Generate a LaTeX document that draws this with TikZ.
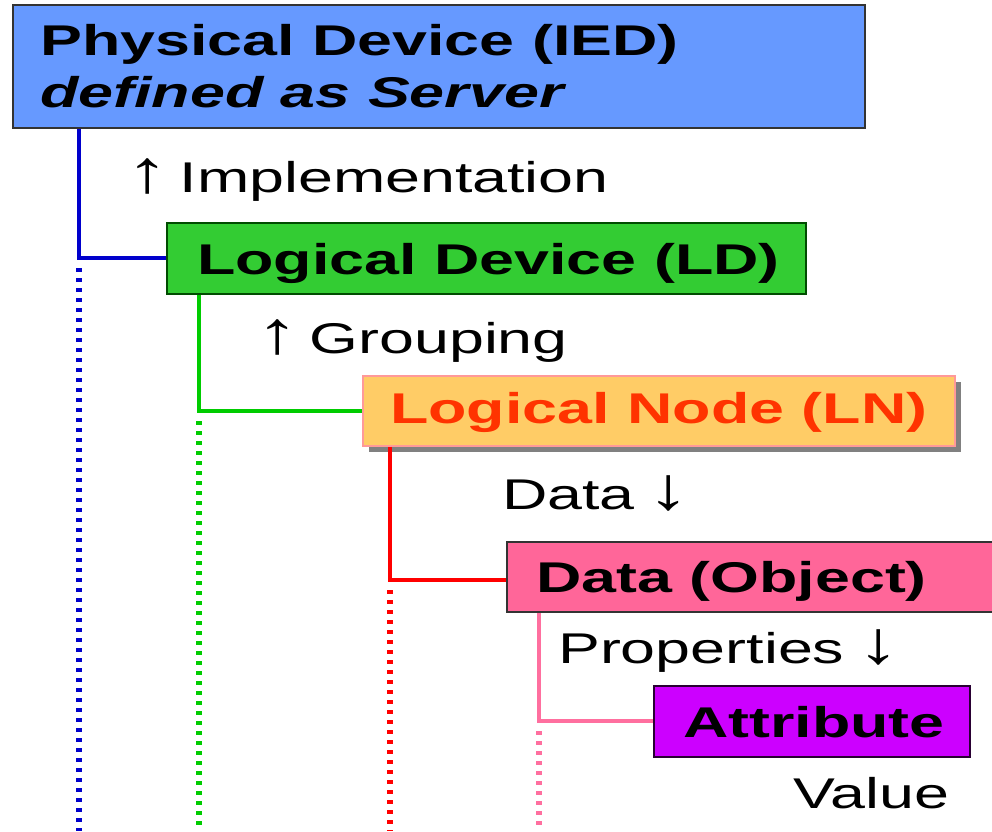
\documentclass[tikz,border=0pt]{standalone}
\usepackage{fontspec}
\setmainfont{Liberation Sans}[FakeStretch=1.46]
\usetikzlibrary{shadows}
\definecolor{iedfill}{HTML}{6699FF}
\definecolor{ldfill}{HTML}{33CC33}
\definecolor{lnfill}{HTML}{FFCC66}
\definecolor{lnline}{HTML}{FF9999}
\definecolor{lntext}{HTML}{FF3300}
\definecolor{dofill}{HTML}{FF6699}
\definecolor{atfill}{HTML}{CC00FF}
\definecolor{boxline}{HTML}{333333}
\definecolor{cblue}{HTML}{0000CC}
\definecolor{cgreen}{HTML}{00CC00}
\definecolor{cred}{HTML}{FF0000}
\definecolor{cpink}{HTML}{FF6F9F}
\newcommand{\upar}{\scalebox{1.35}[1.4]{↑}}
\newcommand{\dnar}{\scalebox{1.35}[1.4]{↓}}
\begin{document}
\begin{tikzpicture}[x=1pt,y=-1pt,
  font=\fontsize{43}{52}\selectfont,
  box/.style={draw=boxline, line width=1.8pt, rectangle, inner sep=0pt, anchor=north west},
  txt/.style={inner sep=0pt, anchor=base west},
  conn/.style={line width=4pt},
  dotl/.style={line width=6pt, dash pattern=on 3.5pt off 6.5pt}]
\useasboundingbox (0,0) rectangle (992,831);
\clip (0,0) rectangle (992,831);
\coordinate (bottom) at (0,831);
% boxes
\node[box, fill=iedfill, minimum width=852pt, minimum height=123pt] (ied) at (12,4) {};
\node[box, fill=ldfill, draw=black!70!green, minimum width=639pt, minimum height=71pt] (ld) at (166,222) {};
\node[box, fill=lnfill, draw=lnline, minimum width=592pt, minimum height=70pt,
  drop shadow={shadow xshift=6pt, shadow yshift=-6pt, fill=black!50, opacity=1}] (ln) at (362,375) {};
\node[box, fill=dofill, minimum width=500pt, minimum height=70pt] (do) at (506,541) {};
\node[box, fill=atfill, draw=black!80!atfill, minimum width=316pt, minimum height=71pt] (at) at (653,685) {};
% box texts
\node[txt] (iedt1) at (40,55) {\bfseries Physical Device (IED)};
\node[txt] (iedt2) at (40,107) {\bfseries\itshape defined as Server};
\node[txt] (ldt) at (197,274) {\bfseries Logical Device (LD)};
\node[txt, text=lntext] (lnt) at (390,423) {\bfseries Logical Node (LN)};
\node[txt] (dot) at (536,592) {\bfseries Data (Object)};
\node[txt] (att) at (683,737) {\bfseries Attribute};
% labels
\node[txt] (impl) at (126,192) {\upar\hspace{11pt}Implementation};
\node[txt] (grp) at (256,353) {\upar\hspace{11pt}Grouping};
\node[txt] (dat) at (502,509) {Data\hspace{13pt}\dnar};
\node[txt] (prop) at (558,663) {Properties\hspace{13pt}\dnar};
\node[txt] (val) at (793,808) {Value};
% connectors
\coordinate (jb) at (79,258);
\coordinate (jg) at (199,411);
\coordinate (jr) at (390,580);
\coordinate (jp) at (539,721);
\coordinate (jbd) at (79,268);
\coordinate (jgd) at (199,421);
\coordinate (jrd) at (390,590);
\coordinate (jpd) at (539,731);
\draw[conn, cblue] (ied.south -| jb) -- (jb) -- (ld.west |- jb);
\draw[conn, cgreen] (ld.south -| jg) -- (jg) -- (ln.west |- jg);
\draw[conn, cred] (ln.south -| jr) -- (jr) -- (do.west |- jr);
\draw[conn, cpink] (do.south -| jp) -- (jp) -- (at.west |- jp);
\draw[dotl, cblue] (jbd) -- (jbd |- bottom);
\draw[dotl, cgreen] (jgd) -- (jgd |- bottom);
\draw[dotl, cred] (jrd) -- (jrd |- bottom);
\draw[dotl, cpink] (jpd) -- ([yshift=6pt]jpd |- bottom);
\end{tikzpicture}
\end{document}
